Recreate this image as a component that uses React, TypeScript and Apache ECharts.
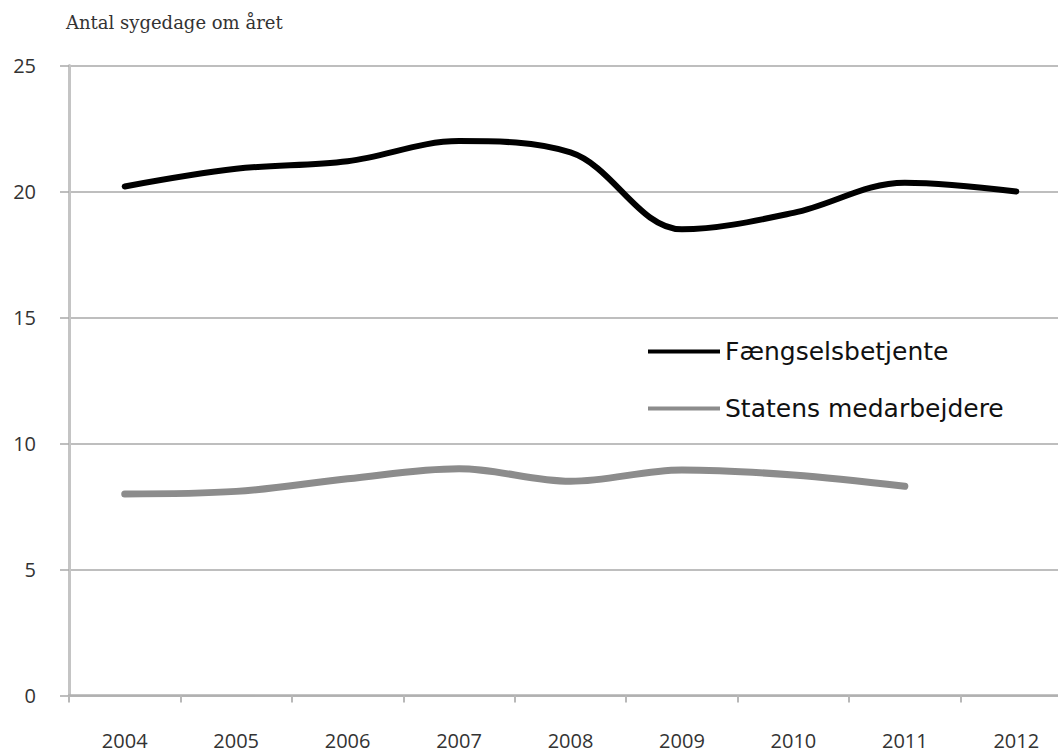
import React, { useEffect, useRef } from "react";
import * as echarts from "echarts";

const years = ["2004", "2005", "2006", "2007", "2008", "2009", "2010", "2011", "2012"];
const prisonOfficers = [20.2, 20.9, 21.2, 22.0, 21.55, 18.5, 19.15, 20.35, 20.0];
const stateEmployees = [8.0, 8.1, 8.6, 9.0, 8.5, 8.95, 8.75, 8.3, null];
const seriesNames = ["Fængselsbetjente", "Statens medarbejdere"];
const yTitle = "Antal sygedage om året";

export default function App() {
  const ref = useRef<HTMLDivElement>(null);
  useEffect(() => {
    if (!ref.current) return;
    const chart = echarts.init(ref.current, null, { renderer: "svg" });
    chart.setOption({
      animation: false,
      backgroundColor: "#ffffff",
      grid: { left: 69, right: 0, top: 65.5, bottom: 57.5, containLabel: false },
      graphic: [
        {
          type: "text",
          left: 66,
          top: 13,
          style: {
            text: yTitle,
            font: "18px 'DejaVu Serif'",
            fill: "#333333",
          },
        },
      ],
      legend: {
        orient: "vertical",
        left: 643,
        top: 334,
        itemWidth: 72,
        itemHeight: 4,
        itemGap: 32,
        icon: "rect",
        textStyle: {
          fontFamily: "'DejaVu Sans'",
          fontSize: 25,
          color: "#111111",
        },
        data: seriesNames,
      },
      xAxis: {
        type: "category",
        data: years,
        boundaryGap: true,
        axisLine: { show: true, lineStyle: { color: "#b0b0b0", width: 2.5 } },
        axisTick: { show: true, interval: 0, length: 7, lineStyle: { color: "#b8b8b8", width: 2 } },
        axisLabel: {
          margin: 35,
          fontFamily: "'Open Sans'",
          fontSize: 20,
          color: "#333333",
          interval: 0,
        },
        splitLine: { show: false },
      },
      yAxis: {
        type: "value",
        min: 0,
        max: 25,
        interval: 5,
        axisLine: { show: true, lineStyle: { color: "#c4c4c4", width: 3 } },
        axisTick: { show: true, length: 9, lineStyle: { color: "#a8a8a8", width: 1.5 } },
        axisLabel: {
          margin: 33,
          fontFamily: "'Open Sans'",
          fontSize: 20,
          color: "#333333",
        },
        splitLine: { show: true, lineStyle: { color: "#a8a8a8", width: 1.5 } },
      },
      series: [
        {
          name: seriesNames[0],
          type: "line",
          data: prisonOfficers,
          smooth: 0.35,
          showSymbol: false,
          symbol: "none",
          itemStyle: { color: "#000000" },
          lineStyle: { color: "#000000", width: 6, cap: "round" },
        },
        {
          name: seriesNames[1],
          type: "line",
          data: stateEmployees,
          smooth: 0.35,
          showSymbol: false,
          symbol: "none",
          itemStyle: { color: "#8c8c8c" },
          lineStyle: { color: "#8c8c8c", width: 7, cap: "round" },
        },
      ],
    });
    return () => chart.dispose();
  }, []);
  return (
    <div
      style={{
        position: "fixed",
        left: 0,
        top: 0,
        width: 1058,
        height: 753,
        overflow: "hidden",
        background: "#fff",
      }}
    >
      <div ref={ref} style={{ width: 1072, height: 753 }} />
    </div>
  );
}
